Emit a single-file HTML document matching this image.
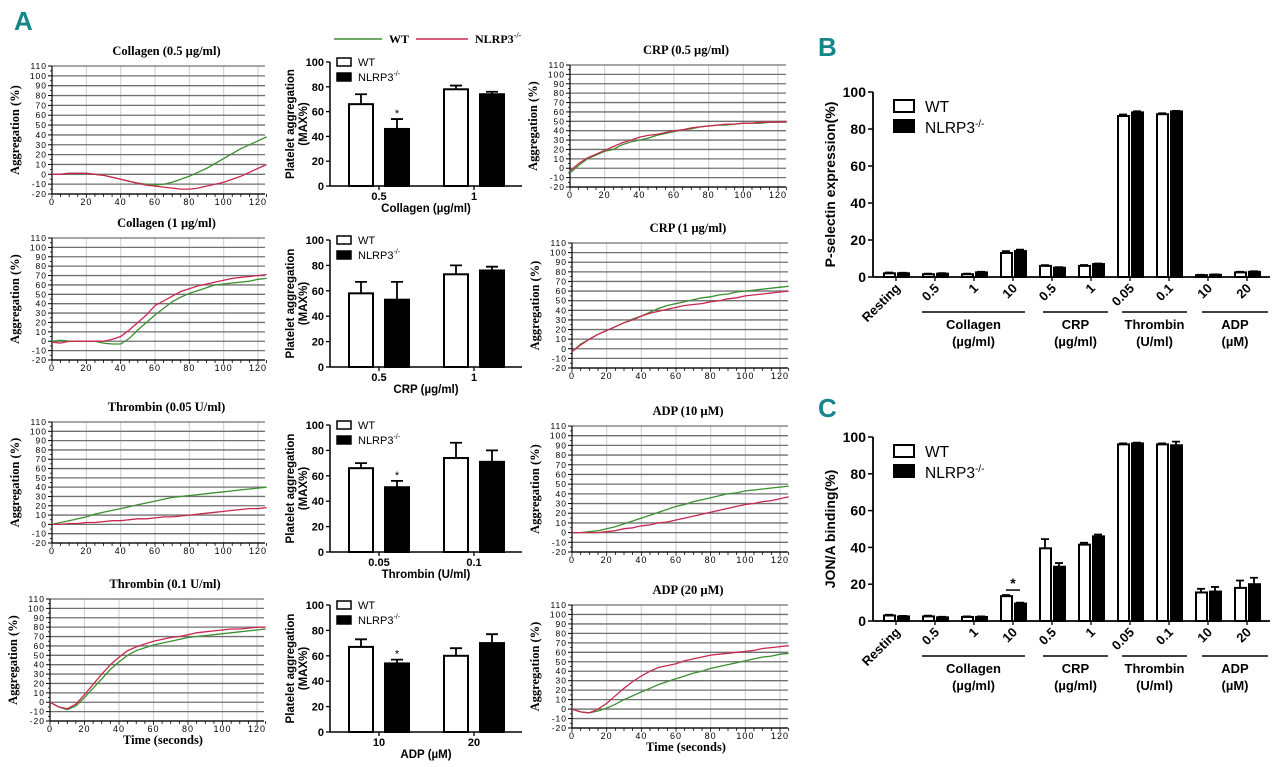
<!DOCTYPE html>
<html><head><meta charset="utf-8"><style>
html,body{margin:0;padding:0;background:#fff;}
svg{display:block;}
.serif{font-family:"Liberation Serif",serif;font-weight:bold;}
.sans{font-family:"Liberation Sans",sans-serif;}
</style></head><body>
<svg id="fig" width="1280" height="767" viewBox="0 0 1280 767" xmlns="http://www.w3.org/2000/svg"></svg>
<script>
// ---------- data: time-course traces (sampled every 5 s, 0..125) ----------
const timePoints = [0,5,10,15,20,25,30,35,40,45,50,55,60,65,70,75,80,85,90,95,100,105,110,115,120,125];
const col05WT = [0,0,1,1,1,0,-1,-3,-5,-7,-9,-10,-11,-10,-8,-5,-2,2,6,11,16,21,26,30,34,38];
const col05KO = [0,0,1,1,1,0,-1,-3,-5,-7,-9,-11,-12,-13,-14,-15,-15,-14,-12,-10,-8,-5,-2,2,6,10];
const col1WT = [0,1,0,0,0,0,-2,-3,-3,3,12,20,28,35,42,47,51,54,57,60,61,62,63,64,66,67];
const col1KO = [-1,-2,0,0,0,0,0,2,5,12,20,28,38,43,48,53,56,59,61,63,65,67,68,69,70,71];
const thr005WT = [0,2,4,6,8,11,13,15,17,19,21,23,25,27,29,30,31,32,33,34,35,36,37,38,39,40];
const thr005KO = [0,0,1,1,2,2,3,4,4,5,6,6,7,8,8,9,10,11,12,13,14,15,16,17,17,18];
const thr01WT = [0,-5,-8,-4,5,15,25,35,43,50,55,58,61,63,65,67,69,70,71,72,73,74,75,76,77,78];
const thr01KO = [0,-5,-7,-2,8,19,30,40,48,55,59,62,65,67,69,70,72,74,75,76,77,78,78,79,80,80];
const crp05WT = [-5,3,10,14,18,20,25,28,30,32,35,37,39,41,42,44,45,46,46,47,48,48,48,49,49,49];
const crp05KO = [-3,5,11,15,19,23,27,30,33,35,36,38,40,41,43,44,45,46,47,47,48,48,49,49,49,50];
const crp1WT = [-3,5,10,15,19,23,27,31,34,38,42,45,47,49,51,53,54,56,57,59,60,61,62,63,64,65];
const crp1KO = [-3,4,10,15,19,23,27,30,34,37,39,41,43,45,46,47,49,50,52,53,55,56,57,58,59,60];
const adp10WT = [0,0,1,2,4,6,9,12,15,18,21,24,27,29,32,34,36,38,40,41,43,44,45,46,47,48];
const adp10KO = [0,0,0,0,1,2,4,5,7,8,10,11,13,15,17,19,21,23,25,27,29,30,32,33,35,37];
const adp20WT = [0,-3,-4,-2,1,5,10,14,18,22,26,29,32,35,38,40,43,45,47,49,51,53,55,56,58,59];
const adp20KO = [0,-3,-4,0,6,14,22,29,35,40,44,46,48,51,53,55,57,58,59,60,61,62,64,65,66,67];
const aggTicks = [-20,-10,0,10,20,30,40,50,60,70,80,90,100,110];
const timeTicks = [0,20,40,60,80,100,120];

// ---------- data: max aggregation bar charts ----------
const colCats = ["0.5","1"]; const colMaxWT=[66,78]; const colMaxKO=[46,74]; const colErrWT=[8,3]; const colErrKO=[8,2];
const crpCats = ["0.5","1"]; const crpMaxWT=[58,73]; const crpMaxKO=[53,76]; const crpErrWT=[9,7]; const crpErrKO=[14,3];
const thrCats = ["0.05","0.1"]; const thrMaxWT=[66,74]; const thrMaxKO=[51,71]; const thrErrWT=[4,12]; const thrErrKO=[5,9];
const adpCats = ["10","20"]; const adpMaxWT=[67,60]; const adpMaxKO=[54,70]; const adpErrWT=[6,6]; const adpErrKO=[3,7];
const maxTicks = [0,20,40,60,80,100];

// ---------- data: panels B and C ----------
const flowCats = ["Resting","0.5","1","10","0.5","1","0.05","0.1","10","20"];
const pselWT = [2,1.5,1.5,13,6,6,87,88,1,2.5];
const pselKO = [2,1.8,2.5,14,5,7,89,89.5,1.2,2.8];
const pselErrWT = [0.4,0.3,0.3,1,0.4,0.5,0.8,0.5,0.2,0.3];
const pselErrKO = [0.3,0.3,0.3,0.8,0.3,0.3,0.6,0.3,0.2,0.3];
const jonWT = [3,2.5,2.2,13.5,39.5,41.5,96,96,15.5,18];
const jonKO = [2.5,2,2.2,9.5,29.5,46,96.5,95.5,16,20];
const jonErrWT = [0.4,0.4,0.3,0.6,5,1,0.5,0.5,2,4];
const jonErrKO = [0.3,0.3,0.3,0.5,2,1,0.4,2,2.5,3.5];
const flowTicks = [0,20,40,60,80,100];

const NS="http://www.w3.org/2000/svg";
const svg=document.getElementById('fig');
function mk(tag,attrs,parent){const e=document.createElementNS(NS,tag);for(const k in attrs)e.setAttribute(k,attrs[k]);(parent||svg).appendChild(e);return e;}
function txt(s,attrs,parent){const e=mk('text',attrs,parent);e.textContent=s;return e;}
const GREEN="#3b8f2f", RED="#c8284f";

// ---------- line charts ----------
function lineChart(name,title,wt,ko,x0,x120,right,top,bottom,showTime){
  const g=mk('g',{});
  
  
  const X=t=>x0+t*(x120-x0)/120, Y=v=>top+(110-v)*(bottom-top)/130;
  const t1=txt(title,{x:(x0+right)/2+8,y:top-11,'text-anchor':'middle','font-size':12.5,class:'serif'},g);
  
  
  timeTicks.forEach(t=>{ if(t>0){const l=mk('line',{x1:X(t),x2:X(t),y1:top,y2:bottom,stroke:'#cdd5de','stroke-width':1.2},g);
    
    }});
  aggTicks.forEach(v=>{const l=mk('line',{x1:x0,x2:right,y1:Y(v),y2:Y(v),stroke:'#707070','stroke-width':1.3},g);
    
    
    mk('line',{x1:x0-4,x2:x0,y1:Y(v),y2:Y(v),stroke:'#000','stroke-width':1},g);
    if(v<110) mk('line',{x1:x0-2,x2:x0,y1:Y(v+5),y2:Y(v+5),stroke:'#000','stroke-width':0.8},g);
    const tl=txt(String(v),{x:x0-5,y:Y(v)+3,'text-anchor':'end','font-size':8.5,class:'sans','letter-spacing':'1'},g);
    
    });
  const ax=mk('line',{x1:x0,x2:x0,y1:top,y2:bottom,stroke:'#000','stroke-width':1.2},g);
  
  
  const bx=mk('line',{x1:x0,x2:right,y1:bottom,y2:bottom,stroke:'#000','stroke-width':1.2},g);
  
  
  for(let t=0;t<=125;t+=5){mk('line',{x1:X(t),x2:X(t),y1:bottom,y2:bottom+(t%20===0?4:3),stroke:'#000','stroke-width':0.8},g);}
  timeTicks.forEach(t=>{const tl=txt(String(t),{x:X(t),y:bottom+11,'text-anchor':'middle','font-size':9,class:'sans','letter-spacing':'1'},g);
    
    });
  const yl=txt('Aggregation (%)',{x:0,y:0,'text-anchor':'middle','font-size':12.5,class:'serif',transform:`translate(${x0-33},${(top+bottom)/2}) rotate(-90)`},g);
  
  
  if(showTime){const tt=txt('Time (seconds)',{x:(x0+right)/2+6,y:bottom+23,'text-anchor':'middle','font-size':12.5,class:'serif'},g);
    
    }
  const mkLine=(arr,col,nm)=>{const d=arr.map((v,i)=>(i?'L':'M')+X(timePoints[i]).toFixed(1)+','+Y(v).toFixed(1)).join('');
    const p=mk('path',{d:d,fill:'none',stroke:col,'stroke-width':1.3},g);
    
    };
  mkLine(wt,GREEN,'wt-trace'); mkLine(ko,RED,'nlrp3-trace');
}
lineChart('collagen-05-trace-chart','Collagen (0.5 \u00b5g/ml)',col05WT,col05KO,52,258,265,66,194,false);
lineChart('collagen-1-trace-chart','Collagen (1 \u00b5g/ml)',col1WT,col1KO,52,258,265,238,360,false);
lineChart('thrombin-005-trace-chart','Thrombin (0.05 U/ml)',thr005WT,thr005KO,52,258,265,422,543,false);
lineChart('thrombin-01-trace-chart','Thrombin (0.1 U/ml)',thr01WT,thr01KO,50,257,264,599,721,true);
lineChart('crp-05-trace-chart','CRP (0.5 \u00b5g/ml)',crp05WT,crp05KO,570,778,786,65,187,false);
lineChart('crp-1-trace-chart','CRP (1 \u00b5g/ml)',crp1WT,crp1KO,572,780,788,243,368,false);
lineChart('adp-10-trace-chart','ADP (10 \u00b5M)',adp10WT,adp10KO,572,780,788,426,552,false);
lineChart('adp-20-trace-chart','ADP (20 \u00b5M)',adp20WT,adp20KO,572,780,788,605,728,true);

// top legend
const tl1=mk('line',{x1:334,x2:382,y1:39,y2:39,stroke:GREEN,'stroke-width':1.5});


const tl2=txt('WT',{x:389,y:43,'font-size':12,class:'serif'});


const tl3=mk('line',{x1:416,x2:468,y1:39,y2:39,stroke:RED,'stroke-width':1.5});


const tl4=txt('',{x:475,y:43,'font-size':12,class:'serif'});
tl4.innerHTML='NLRP3<tspan font-size="8" dy="-5">-/-</tspan>';



// ---------- max aggregation bar charts ----------
function maxBar(name,xtitle,cats,wt,ko,ew,ek,y0,y100,stars){
  const g=mk('g',{});
  
  
  const L=330,R=522, Y=v=>y0-(v/100)*(y0-y100);
  const centers=[379,474];
  maxTicks.forEach(v=>{mk('line',{x1:L-4,x2:L,y1:Y(v),y2:Y(v),stroke:'#000','stroke-width':1.3},g);
    const t=txt(String(v),{x:L-6,y:Y(v)+4,'text-anchor':'end','font-size':11,'font-weight':'bold',class:'sans'},g);
    
    });
  const ya=mk('line',{x1:L,x2:L,y1:y100,y2:y0,stroke:'#000','stroke-width':1.5},g);
  
  
  const xa=mk('line',{x1:L,x2:R,y1:y0,y2:y0,stroke:'#000','stroke-width':1.5},g);
  
  
  cats.forEach((c,i)=>{const cx=centers[i];
    mk('line',{x1:cx,x2:cx,y1:y0,y2:y0+4,stroke:'#000','stroke-width':1.3},g);
    const t=txt(c,{x:cx,y:y0+14,'text-anchor':'middle','font-size':11,'font-weight':'bold',class:'sans'},g);
    
    
    [[wt[i],ew[i],cx-31,'#fff','wt-bar'],[ko[i],ek[i],cx+5,'#000','nlrp3-bar']].forEach(([v,e,bx,f,nm])=>{
      const eb=mk('path',{d:`M${bx+13},${Y(v)}V${Y(v+e)}M${bx+7},${Y(v+e)}H${bx+19}`,stroke:'#000','stroke-width':1.8,fill:'none'},g);
      
      
      const b=mk('rect',{x:bx+1,y:Y(v),width:24,height:y0-Y(v),fill:f,stroke:'#000','stroke-width':2},g);
      
      });
    if(stars[i]){const s=txt('*',{x:cx+18,y:Y(ko[i]+ek[i])-2,'text-anchor':'middle','font-size':11,class:'sans'},g);
      
      }
  });
  const xt=txt(xtitle,{x:426,y:y0+26,'text-anchor':'middle','font-size':11.5,'font-weight':'bold',class:'sans'},g);
  
  
  const yt=txt('',{x:0,y:0,'text-anchor':'middle','font-size':11.5,'font-weight':'bold',class:'sans',transform:`translate(294,${(y0+y100)/2}) rotate(-90)`},g);
  yt.innerHTML='<tspan x="0" dy="0">Platelet aggregation</tspan><tspan x="0" dy="13">(MAX%)</tspan>';
  
  
  const lb=mk('rect',{x:337,y:y100-4,width:14,height:8,fill:'#fff',stroke:'#000','stroke-width':1.5},g);
  
  
  const lt=txt('WT',{x:358,y:y100+4,'font-size':11,class:'sans'},g);
  
  
  const lb2=mk('rect',{x:337,y:y100+11,width:14,height:8,fill:'#000',stroke:'#000','stroke-width':1.5},g);
  
  
  const lt2=txt('',{x:358,y:y100+19,'font-size':11,class:'sans'},g);
  lt2.innerHTML='NLRP3<tspan font-size="7" dy="-5">-/-</tspan>';
  
  
}
maxBar('collagen-max-bar-chart','Collagen (\u00b5g/ml)',colCats,colMaxWT,colMaxKO,colErrWT,colErrKO,186,62,[1,0]);
maxBar('crp-max-bar-chart','CRP (\u00b5g/ml)',crpCats,crpMaxWT,crpMaxKO,crpErrWT,crpErrKO,367,240,[0,0]);
maxBar('thrombin-max-bar-chart','Thrombin (U/ml)',thrCats,thrMaxWT,thrMaxKO,thrErrWT,thrErrKO,552,425,[1,0]);
maxBar('adp-max-bar-chart','ADP (\u00b5M)',adpCats,adpMaxWT,adpMaxKO,adpErrWT,adpErrKO,732,605,[1,0]);

// ---------- panels B / C ----------
function flowChart(name,ytitle,wt,ko,ew,ek,y0,y100,star){
  const g=mk('g',{});
  
  
  const L=873,R=1270,Y=v=>y0-(v/100)*(y0-y100), C=i=>896+i*39;
  flowTicks.forEach(v=>{mk('line',{x1:L-5,x2:L,y1:Y(v),y2:Y(v),stroke:'#000','stroke-width':1.5},g);
    const t=txt(String(v),{x:L-7,y:Y(v)+5,'text-anchor':'end','font-size':14,'font-weight':'bold',class:'sans'},g);
    
    });
  const ya=mk('line',{x1:L,x2:L,y1:y100,y2:y0,stroke:'#000','stroke-width':1.8},g);
  
  
  const xa=mk('line',{x1:L,x2:R,y1:y0,y2:y0,stroke:'#000','stroke-width':1.8},g);
  
  
  flowCats.forEach((c,i)=>{const cx=C(i);
    mk('line',{x1:cx,x2:cx,y1:y0,y2:y0+4,stroke:'#000','stroke-width':1.3},g);
    const t=txt(c,{x:0,y:0,'text-anchor':'end','font-size':13,'font-weight':'bold',class:'sans',transform:`translate(${cx+5},${y0+12}) rotate(-45)`},g);
    
    
    [[wt[i],ew[i],cx-13,'#fff','wt-bar'],[ko[i],ek[i],cx+1,'#000','nlrp3-bar']].forEach(([v,e,bx,f,nm])=>{
      const eb=mk('path',{d:`M${bx+6},${Y(v)}V${Y(v+e)}M${bx+2},${Y(v+e)}H${bx+10}`,stroke:'#000','stroke-width':1.8,fill:'none'},g);
      
      
      const b=mk('rect',{x:bx+1,y:Y(v),width:11,height:y0-Y(v),fill:f,stroke:'#000','stroke-width':2},g);
      
      });
  });
  if(star){const cx=C(3);const top=Y(Math.max(wt[3]+ew[3],ko[3]+ek[3]))-5;
    mk('line',{x1:cx-7,x2:cx+7,y1:top,y2:top,stroke:'#000','stroke-width':1.5},g);
    const s=txt('*',{x:cx,y:top-2,'text-anchor':'middle','font-size':14,'font-weight':'bold',class:'sans'},g);
    
    }
  const groups=[['Collagen','(\u00b5g/ml)',922,1025],['CRP','(\u00b5g/ml)',1043,1108],['Thrombin','(U/ml)',1122,1187],['ADP','(\u00b5M)',1202,1268]];
  groups.forEach(([a,b,x1,x2])=>{const l=mk('line',{x1:x1,x2:x2,y1:y0+35,y2:y0+35,stroke:'#000','stroke-width':1.5},g);
    
    
    const t=txt(a,{x:(x1+x2)/2,y:y0+52,'text-anchor':'middle','font-size':13,'font-weight':'bold',class:'sans'},g);
    
    
    const u=txt(b,{x:(x1+x2)/2,y:y0+69,'text-anchor':'middle','font-size':13,'font-weight':'bold',class:'sans'},g);
    
    });
  const yt=txt(ytitle,{x:0,y:0,'text-anchor':'middle','font-size':14,'font-weight':'bold',class:'sans',transform:`translate(835,${(y0+y100)/2}) rotate(-90)`},g);
  
  
  const lb=mk('rect',{x:894,y:y100+8,width:20,height:12,fill:'#fff',stroke:'#000','stroke-width':2},g);
  
  
  const lt=txt('WT',{x:925,y:y100+20,'font-size':15.5,class:'sans'},g);
  
  
  const lb2=mk('rect',{x:894,y:y100+28,width:20,height:12,fill:'#000',stroke:'#000','stroke-width':2},g);
  
  
  const lt2=txt('',{x:925,y:y100+41,'font-size':15.5,class:'sans'},g);
  lt2.innerHTML='NLRP3<tspan font-size="10" dy="-6">-/-</tspan>';
  
  
}
flowChart('p-selectin-chart','P-selectin expression(%)',pselWT,pselKO,pselErrWT,pselErrKO,277,92,false);
flowChart('jon-a-binding-chart','JON/A binding(%)',jonWT,jonKO,jonErrWT,jonErrKO,621,437,true);

// panel letters
[['A',14,30],['B',818,56],['C',818,417]].forEach(([s,x,y])=>{
  const t=txt(s,{x:x,y:y,'font-size':26,'font-weight':'bold',fill:'#17868a','font-family':'"Liberation Sans Narrow","Liberation Sans",sans-serif'});
  
  
});
</script>
</body></html>
